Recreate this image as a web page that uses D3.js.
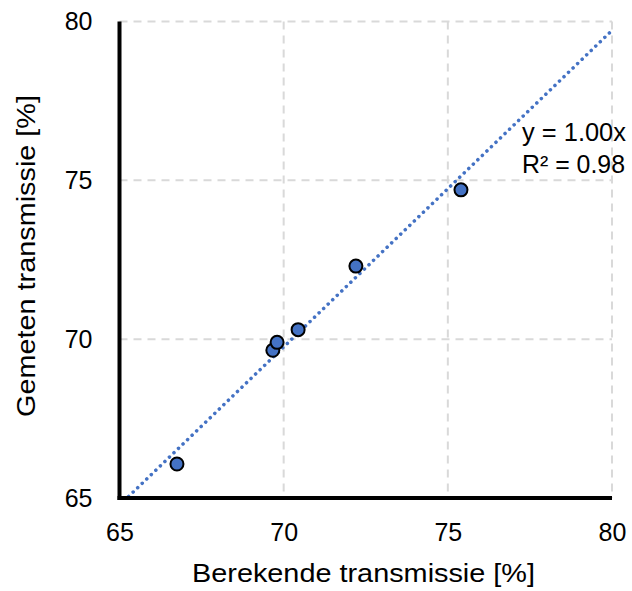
<!DOCTYPE html>
<html>
<head>
<meta charset="utf-8">
<script src="https://cdn.jsdelivr.net/npm/d3@7"></script>
<style>
  html, body { margin: 0; padding: 0; background: #fff; }
  svg { display: block; font-family: "Liberation Sans", Arial, sans-serif; }
</style>
</head>
<body>
<svg id="chart" width="632" height="591"></svg>
<script>
// Data
const calculated = [66.75, 69.67, 69.8, 70.44, 72.2, 75.4];
const measured   = [66.07, 69.65, 69.9, 70.3, 72.3, 74.7];
const xTicks = [65, 70, 75, 80];
const yTicks = [65, 70, 75, 80];
const trendSlope = 0.9965;
const equationLines = ["y = 1.00x", "R² = 0.98"];
const xTitle = "Berekende transmissie [%]";
const yTitle = "Gemeten transmissie [%]";

const svg = d3.select("#chart");
const x = d3.scaleLinear().domain([65, 80]).range([119.5, 612]);
const y = d3.scaleLinear().domain([65, 80]).range([498, 21.5]);

// Gridlines
const grid = svg.append("g");
grid.selectAll("line.v").data(xTicks.filter(t => t > 65)).join("line")
  .attr("x1", d => x(d)).attr("x2", d => x(d))
  .attr("y1", y(80)).attr("y2", y(65))
  .attr("stroke", "#d9d9d9").attr("stroke-width", 2).attr("stroke-dasharray", "8,6");
grid.selectAll("line.h").data(yTicks.filter(t => t > 65)).join("line")
  .attr("x1", x(65)).attr("x2", x(80))
  .attr("y1", d => y(d)).attr("y2", d => y(d))
  .attr("stroke", "#d9d9d9").attr("stroke-width", 2).attr("stroke-dasharray", "8,6");

// Trendline (clipped to plot area)
svg.append("clipPath").attr("id", "plotclip").append("rect")
  .attr("x", x(65)).attr("y", y(80)).attr("width", x(80) - x(65)).attr("height", y(65) - y(80));
const xs = [65, 80];
svg.append("line")
  .attr("clip-path", "url(#plotclip)")
  .attr("x1", x(xs[0])).attr("y1", y(trendSlope * xs[0]))
  .attr("x2", x(xs[1])).attr("y2", y(trendSlope * xs[1]))
  .attr("stroke", "#4472C4").attr("stroke-width", 3.5)
  .attr("stroke-linecap", "round").attr("stroke-dasharray", "0.1,6.2");

// Axes lines
const xAxis = d3.axisBottom(x).tickValues(xTicks).tickSize(0).tickPadding(0);
const yAxis = d3.axisLeft(y).tickValues(yTicks).tickSize(0).tickPadding(0);
const gx = svg.append("g").attr("transform", `translate(0,${y(65)})`).call(xAxis);
gx.select(".domain").attr("stroke", "#000").attr("stroke-width", 4)
  .attr("d", `M${x(65) - 2},0H${x(80)}`);
gx.selectAll(".tick text").attr("font-size", 25).attr("fill", "#000")
  .attr("font-family", "Liberation Sans, Arial, sans-serif")
  .attr("dy", null).attr("y", 43);

const gy = svg.append("g").attr("transform", `translate(${x(65)},0)`).call(yAxis);
gy.select(".domain").attr("stroke", "#000").attr("stroke-width", 4)
  .attr("d", `M0,${y(80)}V${y(65) + 2}`);
gy.selectAll(".tick text").attr("font-size", 25).attr("fill", "#000")
  .attr("font-family", "Liberation Sans, Arial, sans-serif")
  .attr("dy", null).attr("x", -27).attr("y", 8);

// Points
svg.append("g").selectAll("circle").data(calculated.map((c, i) => [c, measured[i]])).join("circle")
  .attr("cx", d => x(d[0])).attr("cy", d => y(d[1])).attr("r", 6.5)
  .attr("fill", "#4472C4").attr("stroke", "#000").attr("stroke-width", 2);

// Equation
svg.append("g").selectAll("text").data(equationLines).join("text")
  .attr("x", 522).attr("y", (d, i) => 141 + i * 32)
  .attr("font-size", 25).attr("fill", "#000")
  .attr("textLength", (d, i) => i === 0 ? 104 : 103)
  .attr("lengthAdjust", "spacingAndGlyphs")
  .text(d => d);

// Axis titles
svg.append("text").attr("x", 363.5).attr("y", 582).attr("text-anchor", "middle")
  .attr("font-size", 26).attr("fill", "#000")
  .attr("textLength", 343).attr("lengthAdjust", "spacingAndGlyphs")
  .text(xTitle);
svg.append("text").attr("transform", `translate(35,256) rotate(-90)`).attr("text-anchor", "middle")
  .attr("font-size", 26).attr("fill", "#000")
  .attr("textLength", 322).attr("lengthAdjust", "spacingAndGlyphs")
  .text(yTitle);
</script>
</body>
</html>
